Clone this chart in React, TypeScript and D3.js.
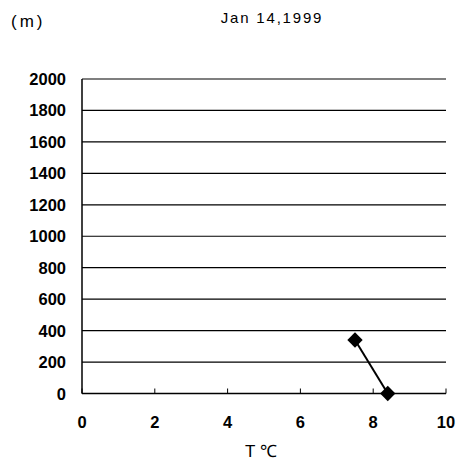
import React from "react";
import * as d3 from "d3";

const temps = [7.5, 8.4];
const heights = [340, 0];
const xTicks = [0, 2, 4, 6, 8, 10];
const yTicks = [0, 200, 400, 600, 800, 1000, 1200, 1400, 1600, 1800, 2000];
const title = "Jan 14,1999";
const yUnit = "(m)";
const xTitle = "T ℃";

const W = 459;
const H = 465;

export default function App() {
  const x = d3.scaleLinear().domain([0, 10]).range([82, 446]);
  const y = d3.scaleLinear().domain([0, 2000]).range([393.5, 79]);
  const pts = temps.map((t, i) => [x(t), y(heights[i])] as [number, number]);
  const line = d3.line()(pts) || "";
  const diamond = d3.symbol().type(d3.symbolDiamond2).size(150)() || "";
  const font = "'Liberation Sans', Arial, sans-serif";

  return (
    <svg
      width={W}
      height={H}
      style={{ position: "absolute", left: 0, top: 0, background: "#fff" }}
      fontFamily={font}
    >
      <rect width={W} height={H} fill="#fff" />
      {/* horizontal grid lines */}
      {yTicks.filter((v) => v > 0).map((v) => (
        <line key={v} x1={x(0)} x2={x(10)} y1={y(v)} y2={y(v)} stroke="#000" strokeWidth={1.2} />
      ))}
      {/* axes */}
      <line x1={x(0)} x2={x(0)} y1={y(2000)} y2={y(0)} stroke="#000" strokeWidth={1.5} />
      <line x1={x(0)} x2={x(10)} y1={y(0)} y2={y(0)} stroke="#000" strokeWidth={1.5} />
      {xTicks.map((v) => (
        <line key={v} x1={x(v)} x2={x(v)} y1={y(0)} y2={y(0) - 5} stroke="#000" strokeWidth={1} />
      ))}
      {/* y tick labels */}
      {yTicks.map((v) => (
        <text key={v} x={66} y={y(v) + 6} textAnchor="end" fontSize={16.5} fontWeight="bold" fill="#000">
          {v}
        </text>
      ))}
      {/* x tick labels */}
      {xTicks.map((v) => (
        <text key={v} x={x(v)} y={428} textAnchor="middle" fontSize={16.5} fontWeight="bold" fill="#000">
          {v}
        </text>
      ))}
      {/* data */}
      <path d={line} fill="none" stroke="#000" strokeWidth={2} />
      {pts.map((p, i) => (
        <path key={i} d={diamond} transform={`translate(${p[0]},${p[1]})`} fill="#000" />
      ))}
      {/* titles */}
      <text x={272} y={23} textAnchor="middle" fontSize={15} letterSpacing={1.8} fill="#000">
        {title}
      </text>
      <text x={11} y={27} fontSize={17} letterSpacing={3} fill="#000">
        {yUnit}
      </text>
      <text x={261} y={457} textAnchor="middle" fontSize={17} fill="#000">
        {xTitle}
      </text>
    </svg>
  );
}
